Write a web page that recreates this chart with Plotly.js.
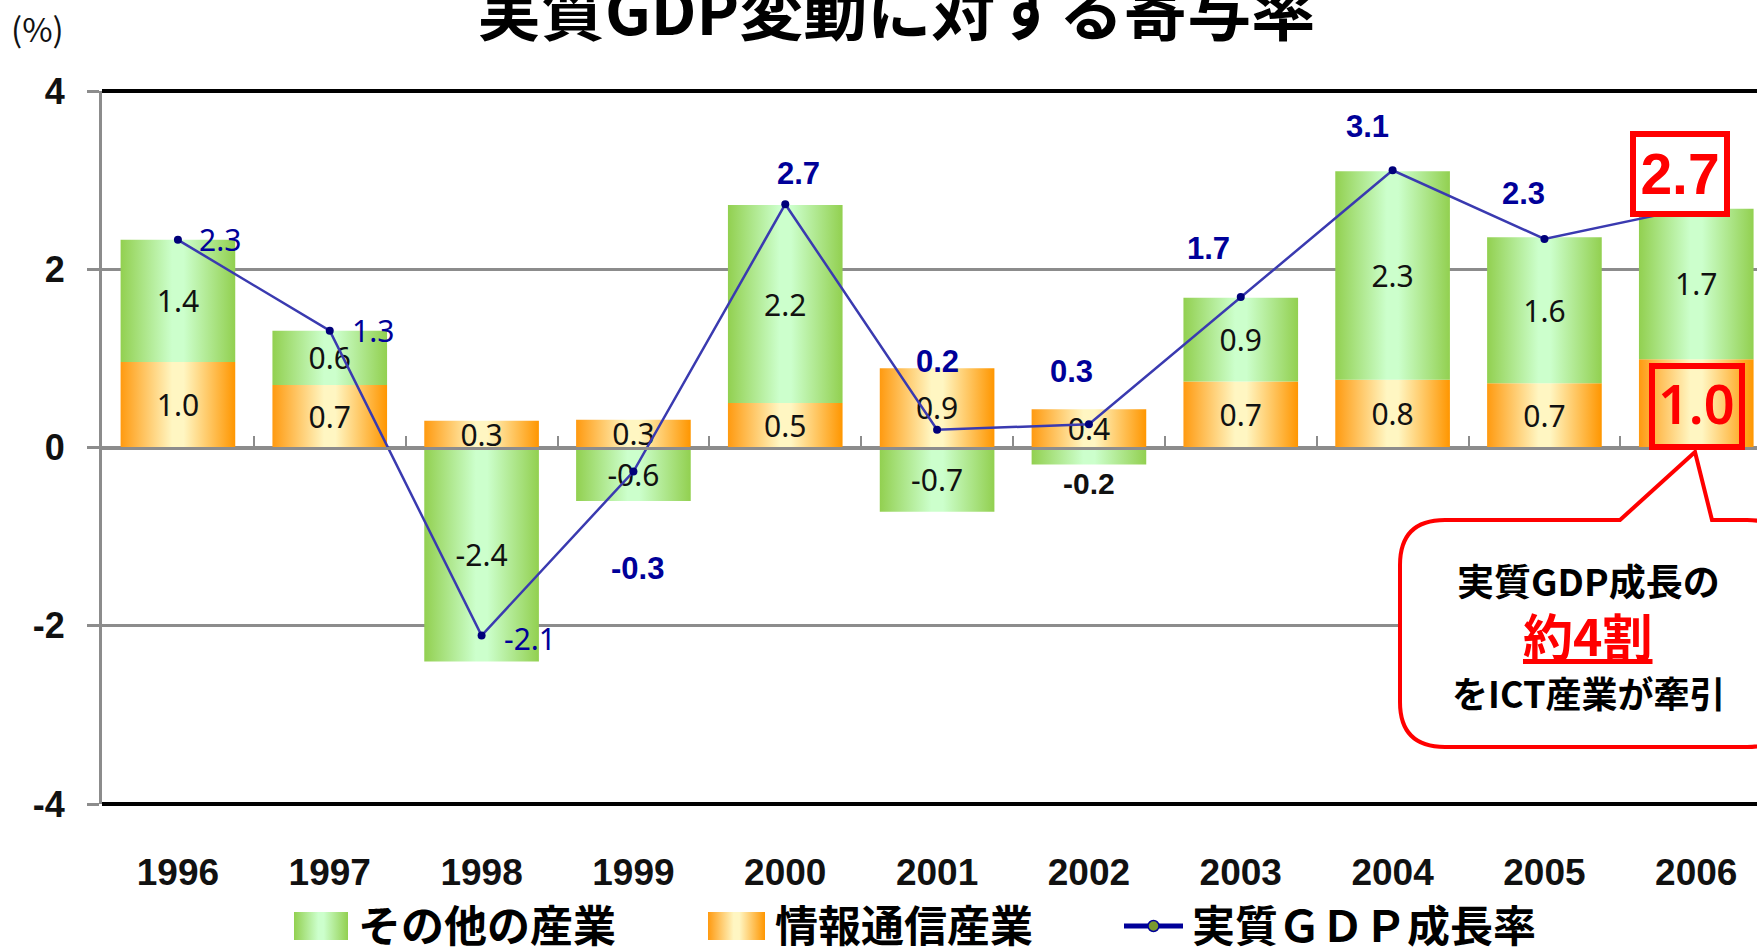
<!DOCTYPE html>
<html>
<head>
<meta charset="utf-8">
<script src="https://cdn.plot.ly/plotly-3.0.1.min.js"></script>
<style>html,body{margin:0;padding:0;background:#fff;}#chart{width:1757px;height:947px;}</style>
</head>
<body>
<div id="chart"></div>
<script>
// ---- data ----
const years = ['1996','1997','1998','1999','2000','2001','2002','2003','2004','2005','2006'];
const ictContribution = [0.96, 0.70, 0.30, 0.31, 0.50, 0.89, 0.43, 0.74, 0.76, 0.72, 0.99];
const otherContribution = [1.37, 0.61, -2.40, -0.60, 2.22, -0.72, -0.19, 0.94, 2.34, 1.64, 1.69];
const gdpGrowth = [2.33, 1.31, -2.11, -0.27, 2.73, 0.20, 0.26, 1.69, 3.11, 2.34, 2.70];
const yTickValues = [-4, -2, 0, 2, 4];
const seriesNames = ['その他の産業', '情報通信産業', '実質ＧＤＰ成長率'];
const chartTitle = '実質GDP変動に対する寄与率';
const unitLabel = '(%)';
const calloutLines = ['実質GDP成長の', '約4割', 'をICT産業が牽引'];

// ---- layout helpers (pixel -> paper) ----
const W = 1757, H = 947, ML = 102, MR = 0, MT = 91, MB = 143;
const PW = W - ML - MR, PH = H - MT - MB;
const xp = px => (px - ML) / PW;
const yp = py => (H - MB - py) / PH;
const NAVY = '#000099';
const RED = '#FF0000';

// label offsets for GDP labels (pixels, style only)
const gdpLabelDx = [42, 43, 48, 4, 13, 0, -17, -32, -25, -21, -16];
const gdpLabelDy = [0, 0, -3, -97, 31, 68, 53, 48, 44, 45, 33];
const gdpLabelBold = [false, false, false, true, true, true, true, true, true, true, true];

const last = years.length - 1;

const ictTextSize = ictContribution.map((v, i) => i === last ? 54 : 30);
const ictTextColor = ictContribution.map((v, i) => i === last ? RED : '#111');
const ictTextWeight = ictContribution.map((v, i) => i === last ? 600 : 400);
const isSmallNeg = v => v < 0 && Math.abs(v) < 0.3;
const otherTextPos = otherContribution.map(v => isSmallNeg(v) ? 'outside' : 'inside');
const otherTextWeight = otherContribution.map(v => isSmallNeg(v) ? 700 : 400);
const otherTextFamily = otherContribution.map(v => isSmallNeg(v) ? 'Liberation Sans' : 'Noto Sans');

const data = [
  {
    type: 'bar', name: seriesNames[1], x: years, y: ictContribution,
    marker: {color: '#FFB030'},
    texttemplate: '%{y:.1f}', textposition: 'inside', insidetextanchor: 'middle',
    constraintext: 'none', cliponaxis: false,
    textfont: {family: 'Noto Sans', size: ictTextSize, color: ictTextColor, weight: ictTextWeight},
    showlegend: false, hoverinfo: 'skip'
  },
  {
    type: 'bar', name: seriesNames[0], x: years, y: otherContribution,
    marker: {color: '#A8E080'},
    texttemplate: '%{y:.1f}', textposition: otherTextPos, insidetextanchor: 'middle',
    constraintext: 'none', cliponaxis: false,
    textfont: {family: otherTextFamily, size: 30, color: '#111', weight: otherTextWeight},
    showlegend: false, hoverinfo: 'skip'
  },
  {
    type: 'scatter', mode: 'lines+markers', name: seriesNames[2], x: years, y: gdpGrowth,
    line: {color: '#3A3AB0', width: 2.5},
    marker: {color: '#00007A', size: 8},
    cliponaxis: false, showlegend: false, hoverinfo: 'skip'
  }
];

const annotations = [];
// GDP labels (x given as category index)
gdpGrowth.forEach((v, i) => {
  if (i === last) return;
  annotations.push({
    x: i, y: v, xref: 'x', yref: 'y', text: v.toFixed(1), showarrow: false,
    xanchor: 'center', yanchor: 'middle',
    xshift: gdpLabelDx[i], yshift: gdpLabelDy[i],
    font: gdpLabelBold[i]
      ? {family: 'Liberation Sans', size: 31, color: NAVY, weight: 700}
      : {family: 'Noto Sans', size: 30, color: NAVY}
  });
});
// highlighted last GDP label
annotations.push({
  x: last, y: gdpGrowth[last], xref: 'x', yref: 'y', text: '<b>' + gdpGrowth[last].toFixed(1) + '</b>',
  showarrow: false, xanchor: 'center', yanchor: 'middle',
  xshift: gdpLabelDx[last], yshift: gdpLabelDy[last],
  font: {family: 'Liberation Sans', size: 57, color: RED},
  bgcolor: '#FFFFFF', bordercolor: RED, borderwidth: 6, borderpad: 0, width: 88, height: 74
});
// unit label
annotations.push({x: xp(37), y: yp(28), xref: 'paper', yref: 'paper', xanchor: 'center', yanchor: 'middle',
  text: unitLabel, showarrow: false,
  font: {family: 'Noto Sans CJK JP', size: 33, color: '#111'}});
// callout text
annotations.push({x: xp(1588), y: yp(580), xref: 'paper', yref: 'paper', xanchor: 'center', yanchor: 'middle',
  text: '<b>' + calloutLines[0] + '</b>', showarrow: false,
  font: {family: 'Noto Sans CJK JP', size: 37, color: '#000'}});
annotations.push({x: xp(1588), y: yp(634), xref: 'paper', yref: 'paper', xanchor: 'center', yanchor: 'middle',
  text: '<b><u>' + calloutLines[1] + '</u></b>', showarrow: false,
  font: {family: 'Noto Sans CJK JP', size: 50, color: RED}});
annotations.push({x: xp(1588), y: yp(692), xref: 'paper', yref: 'paper', xanchor: 'center', yanchor: 'middle',
  text: '<b>' + calloutLines[2] + '</b>', showarrow: false,
  font: {family: 'Noto Sans CJK JP', size: 36, color: '#000'}});
// legend texts
const legendTextX = [356, 773, 1190];
const legendOrder = [0, 1, 2];
legendOrder.forEach((k, j) => {
  annotations.push({x: xp(legendTextX[j]), y: yp(923), xref: 'paper', yref: 'paper', xanchor: 'left', yanchor: 'middle',
    text: '<b>' + seriesNames[k] + '</b>', showarrow: false,
    font: {family: 'Noto Sans CJK JP', size: 43, color: '#000'}});
});

// bubble path
function bubblePath() {
  const L = 1400, T = 520, B = 747, R = 1792, r = 45;
  const P = (x, y) => xp(x).toFixed(5) + ',' + yp(y).toFixed(5);
  return 'M' + P(L + r, T) + ' L' + P(1620, T) + ' L' + P(1695, 452) + ' L' + P(1712, T) +
    ' L' + P(R - r, T) + ' Q' + P(R, T) + ' ' + P(R, T + r) + ' L' + P(R, B - r) +
    ' Q' + P(R, B) + ' ' + P(R - r, B) + ' L' + P(L + r, B) + ' Q' + P(L, B) + ' ' + P(L, B - r) +
    ' L' + P(L, T + r) + ' Q' + P(L, T) + ' ' + P(L + r, T) + ' Z';
}

const shapes = [
  {type: 'line', xref: 'paper', yref: 'paper', x0: 0, x1: 1.02, y0: 1, y1: 1, line: {color: '#000', width: 4}},
  {type: 'line', xref: 'paper', yref: 'paper', x0: 0, x1: 1.02, y0: 0, y1: 0, line: {color: '#000', width: 4}},
  {type: 'rect', xref: 'paper', yref: 'paper', x0: xp(294), x1: xp(348), y0: yp(940), y1: yp(912), fillcolor: '#A8E080', line: {width: 0}},
  {type: 'rect', xref: 'paper', yref: 'paper', x0: xp(708), x1: xp(765), y0: yp(940), y1: yp(912), fillcolor: '#FFB030', line: {width: 0}},
  {type: 'line', xref: 'paper', yref: 'paper', x0: xp(1124), x1: xp(1183), y0: yp(926), y1: yp(926), line: {color: '#000099', width: 5}},
  {type: 'circle', xref: 'paper', yref: 'paper', x0: xp(1148), x1: xp(1159), y0: yp(931.5), y1: yp(920.5), fillcolor: '#7A9A30', line: {color: '#000099', width: 1.5}},
  {type: 'path', xref: 'paper', yref: 'paper', path: bubblePath(), fillcolor: '#FFFFFF', line: {color: RED, width: 4}},
  {type: 'rect', xref: 'paper', yref: 'paper', x0: xp(1652), x1: xp(1742), y0: yp(447), y1: yp(366), line: {color: RED, width: 6}}
];

const layout = {
  width: W, height: H,
  margin: {l: ML, r: MR, t: MT, b: MB, pad: 0},
  paper_bgcolor: '#FFFFFF', plot_bgcolor: '#FFFFFF',
  barmode: 'relative', bargap: 0.245,
  showlegend: false,
  title: {text: '<b>' + chartTitle + '</b>', x: 0.51, xanchor: 'center', xref: 'container',
    y: 0.987, yanchor: 'middle', yref: 'container',
    font: {family: 'Noto Sans CJK JP', size: 64, color: '#000'}},
  xaxis: {
    type: 'category', range: [-0.5, 10.4], anchor: 'free', position: 0.5,
    showline: true, linecolor: '#8C8C8C', linewidth: 3,
    ticks: 'inside', tickson: 'boundaries', ticklen: 11, tickwidth: 2, tickcolor: '#8C8C8C',
    showgrid: false, ticklabelstandoff: 391,
    tickfont: {family: 'Liberation Sans', size: 37, color: '#111', weight: 700}
  },
  yaxis: {
    range: [-4, 4], tickvals: yTickValues, ticktext: yTickValues.map(String),
    showline: true, linecolor: '#8C8C8C', linewidth: 3,
    ticks: 'outside', ticklen: 12, tickwidth: 3, tickcolor: '#8C8C8C',
    showgrid: true, gridcolor: '#8C8C8C', gridwidth: 3,
    zeroline: true, zerolinecolor: '#8C8C8C', zerolinewidth: 3,
    ticklabelstandoff: 15,
    tickfont: {family: 'Liberation Sans', size: 36, color: '#111', weight: 700}
  },
  shapes: shapes,
  annotations: annotations
};

const gd = document.getElementById('chart');

function makeGradient(defs, id, edgeL, mid, edgeR) {
  const NS = 'http://www.w3.org/2000/svg';
  const g = document.createElementNS(NS, 'linearGradient');
  g.setAttribute('id', id);
  g.setAttribute('x1', '0'); g.setAttribute('y1', '0'); g.setAttribute('x2', '1'); g.setAttribute('y2', '0');
  [[0, edgeL], [0.45, mid], [0.55, mid], [1, edgeR]].forEach(([o, c]) => {
    const s = document.createElementNS(NS, 'stop');
    s.setAttribute('offset', o); s.setAttribute('stop-color', c);
    g.appendChild(s);
  });
  defs.appendChild(g);
}

function applyGradients() {
  const svg = gd.querySelector('svg.main-svg');
  let defs = svg.querySelector('defs');
  if (!defs) { defs = document.createElementNS('http://www.w3.org/2000/svg', 'defs'); svg.insertBefore(defs, svg.firstChild); }
  makeGradient(defs, 'gradOrange', '#FF9A10', '#FFF6C2', '#FF9600');
  makeGradient(defs, 'gradGreen', '#92D050', '#CCFFCC', '#92D050');
  const groups = gd.querySelectorAll('.barlayer .trace');
  const ids = ['gradOrange', 'gradGreen'];
  groups.forEach((grp, i) => {
    grp.querySelectorAll('.point path').forEach(p => { p.style.fill = 'url(#' + ids[i] + ')'; });
  });
  gd.querySelectorAll('.shapelayer path').forEach(p => {
    const idx = p.getAttribute('data-index');
    if (idx === '2') p.style.fill = 'url(#gradGreen)';
    if (idx === '3') p.style.fill = 'url(#gradOrange)';
  });
}

Plotly.newPlot(gd, data, layout, {staticPlot: true, displayModeBar: false}).then(applyGradients);
</script>
</body>
</html>
